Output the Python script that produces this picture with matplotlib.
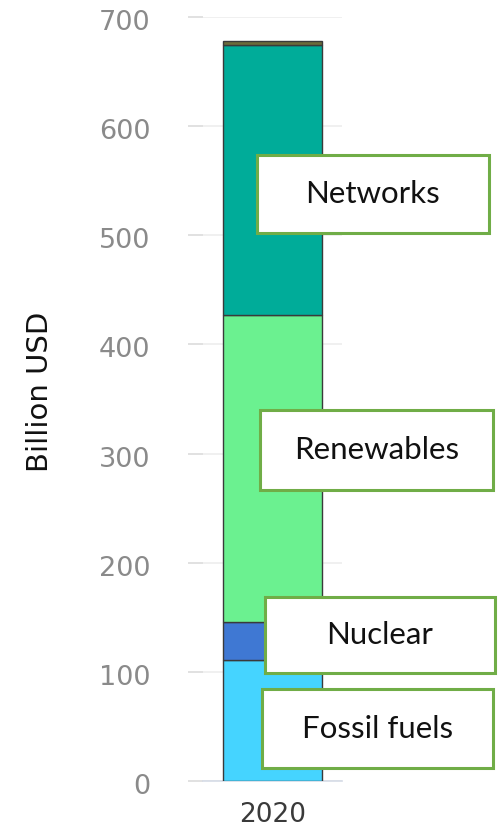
import matplotlib
matplotlib.use("Agg")
import matplotlib.pyplot as plt
from matplotlib.patches import Rectangle
from matplotlib.transforms import ScaledTranslation

categories = ["2020"]
segments = ["Fossil fuels", "Nuclear", "Renewables", "Networks", "Other"]
values = [111, 35, 281, 247, 4]
colors = ["#45D4FF", "#3F78D3", "#6BF190", "#00AC99", "#6B6B3A"]
yticks = [0, 100, 200, 300, 400, 500, 600, 700]
labels_boxes = ["Networks", "Renewables", "Nuclear", "Fossil fuels"]

W, H = 499, 831
fig = plt.figure(figsize=(W / 100, H / 100), dpi=100)
ax = fig.add_axes([203 / W, (H - 781) / H, 139 / W, 764 / H])

bottom = 0
for seg, v, c in zip(segments, values, colors):
    ax.bar(0, v, width=0.712, bottom=bottom, color=c, edgecolor="#3a3a3a",
           linewidth=1.0, zorder=3)
    bottom += v

ax.set_xlim(-0.5, 0.5)
ax.set_ylim(0, 700)
ax.set_yticks(yticks)
ax.set_yticklabels([str(t) for t in yticks], color="#8a8a8a", fontsize=19.5,
                   family="DejaVu Sans")
ax.set_xticks([0])
ax.set_xticklabels(categories, color="#3a3a3a", fontsize=19, family="DejaVu Sans")
ax.tick_params(axis="y", length=11, color="#dcdcdc", width=1.2, pad=27)
ax.tick_params(axis="x", length=0, pad=15)
off = ScaledTranslation(0, -3 / 100, fig.dpi_scale_trans)
for lab in ax.get_yticklabels():
    lab.set_transform(lab.get_transform() + off)
ax.grid(axis="y", color="#eeeeee", linewidth=1.2, zorder=0)
for s in ["top", "right", "left"]:
    ax.spines[s].set_visible(False)
ax.spines["bottom"].set_color("#d5dbe6")
ax.spines["bottom"].set_linewidth(1.2)

fig.text(40 / W, 1 - 392 / H, "Billion USD", rotation=90, ha="center",
         va="center", fontsize=21, family="Liberation Sans Narrow", color="#111111")

boxes = [
    (257, 155, 489, 233),
    (260, 410, 493, 490),
    (265, 597, 495, 673),
    (262, 689, 493, 768),
]
for lab, (x0, y0, x1, y1) in zip(labels_boxes, boxes):
    r = Rectangle((x0 / W, 1 - y1 / H), (x1 - x0) / W, (y1 - y0) / H,
                  transform=fig.transFigure, facecolor="white",
                  edgecolor="#70AD47", linewidth=2.2, zorder=10)
    fig.add_artist(r)
    fig.text((x0 + x1) / 2 / W, 1 - (y0 + y1) / 2 / H, lab, ha="center",
             va="center", fontsize=22.5, family="Lato", color="#111111", zorder=11)

fig.savefig("out.png", dpi=100)
